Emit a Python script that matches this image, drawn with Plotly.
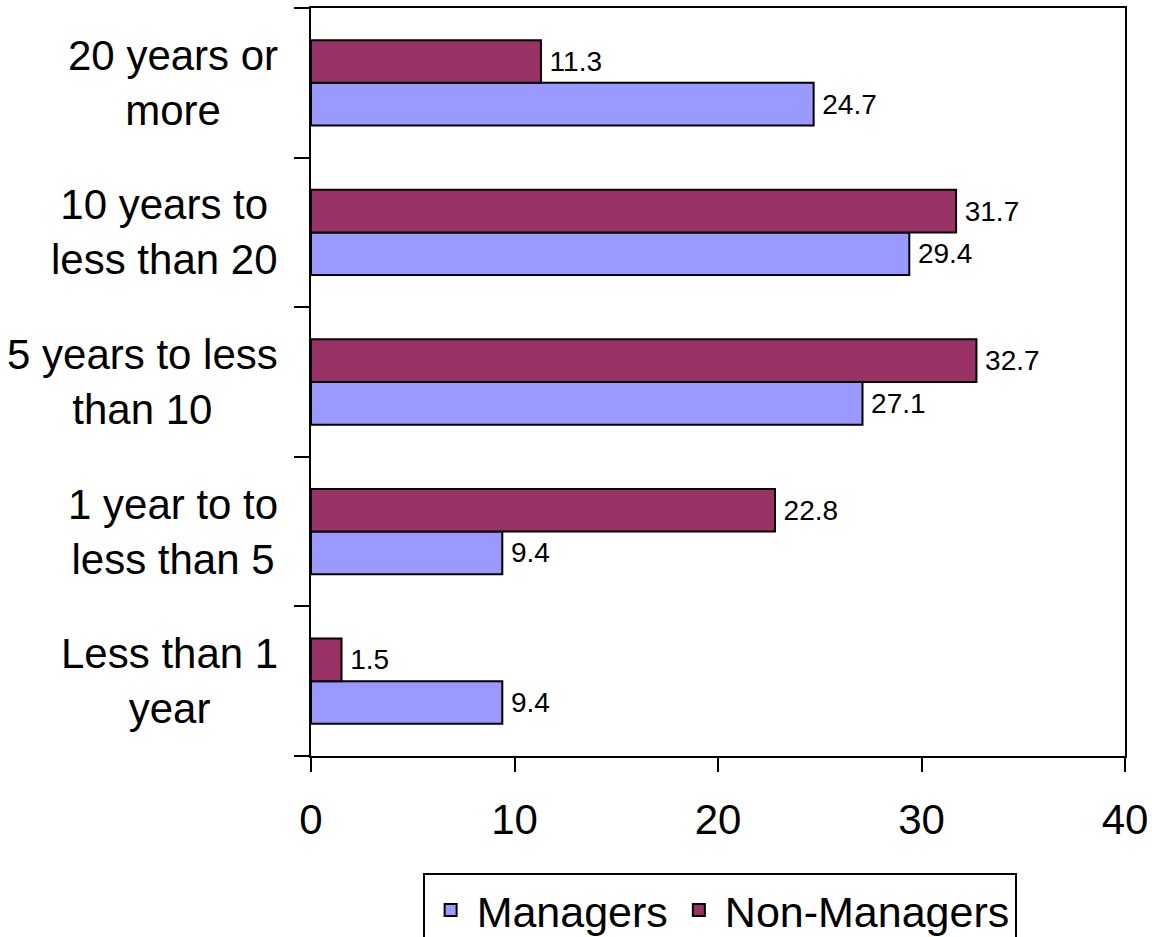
import plotly.graph_objects as go

categories = ["Less than 1 year", "1 year to to less than 5", "5 years to less than 10",
              "10 years to less than 20", "20 years or more"]
category_labels = ["Less than 1<br>year", "1 year to to<br>less than 5", "5 years to less<br>than 10",
                   "10 years to<br>less than 20", "20 years or<br>more"]
managers = [9.4, 9.4, 27.1, 29.4, 24.7]
non_managers = [1.5, 22.8, 32.7, 31.7, 11.3]
x_ticks = [0, 10, 20, 30, 40]

FONT = "Liberation Sans, Arial, sans-serif"
GAP = "\u2009"

fig = go.Figure()
fig.add_trace(go.Bar(
    y=categories, x=managers, orientation="h", name="Managers",
    marker=dict(color="#9999FF", line=dict(color="black", width=2)),
    text=[f"{GAP}{v:.1f}" for v in managers], textposition="outside",
    textfont=dict(size=28, color="black", family=FONT), cliponaxis=False,
))
fig.add_trace(go.Bar(
    y=categories, x=non_managers, orientation="h", name="Non-Managers",
    marker=dict(color="#993366", line=dict(color="black", width=2)),
    text=[f"{GAP}{v:.1f}" for v in non_managers], textposition="outside",
    textfont=dict(size=28, color="black", family=FONT), cliponaxis=False,
))

annotations = []
for cat, lab in zip(categories, category_labels):
    annotations.append(dict(
        x=-0.038, xref="paper", y=cat, yref="y", text=lab, showarrow=False,
        xanchor="right", yanchor="middle", align="center",
        font=dict(size=42, color="black", family=FONT),
    ))

fig.update_layout(
    width=1152, height=937,
    margin=dict(l=311, r=27, t=8, b=181, autoexpand=False),
    paper_bgcolor="white", plot_bgcolor="white",
    barmode="group", bargap=0.43, bargroupgap=0,
    font=dict(family=FONT, size=40, color="black"),
    annotations=annotations,
    legend=dict(
        orientation="h", x=0.502, xanchor="center", y=-0.157, yanchor="top",
        bordercolor="black", borderwidth=2, font=dict(size=43, family=FONT),
        traceorder="normal", itemwidth=42,
    ),
    showlegend=True,
)
fig.update_xaxes(
    range=[0, 40], tickvals=x_ticks, ticks="outside", ticklen=14, tickwidth=2,
    tickcolor="black", showline=True, linecolor="black", linewidth=2, mirror=True,
    showgrid=False, zeroline=False, tickfont=dict(size=42, family=FONT),
    ticklabelstandoff=12,
)
fig.update_yaxes(
    categoryorder="array", categoryarray=categories,
    ticks="outside", ticklen=15, tickwidth=2, tickcolor="black", tickson="boundaries",
    showticklabels=False, showline=True, linecolor="black", linewidth=2, mirror=True,
    showgrid=False, zeroline=False,
)

fig.write_html("out.html", config={"displayModeBar": False},
               post_script="document.body.style.margin='0';")
